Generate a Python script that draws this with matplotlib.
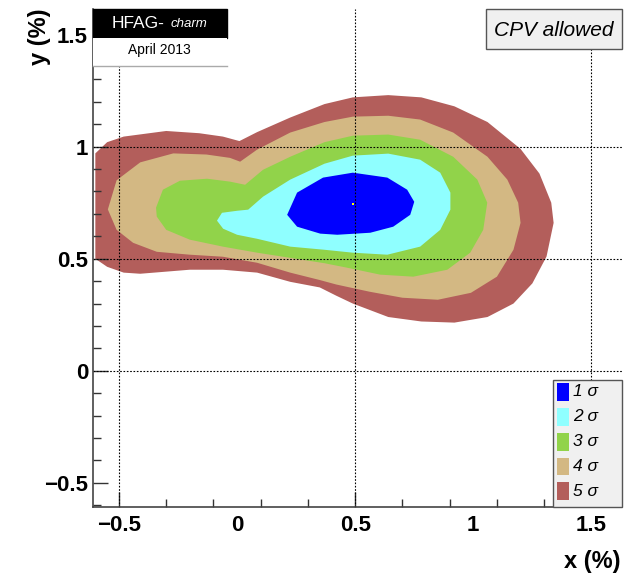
import matplotlib.pyplot as plt
import matplotlib.patches as mpatches
import numpy as np

plt.rcParams['font.family'] = ['Liberation Sans', 'DejaVu Sans']

# contour boundaries (x %, y %)
x5 = [-0.60, -0.60, -0.55, -0.48, -0.30, -0.16, -0.06, 0.01, 0.085, 0.225, 0.37, 0.49, 0.64, 0.78,
      0.92, 1.06, 1.20, 1.28, 1.33, 1.34, 1.31, 1.25, 1.17, 1.06, 0.92, 0.78, 0.64, 0.49, 0.42,
      0.35, 0.225, 0.085, -0.06, -0.20, -0.41, -0.48, -0.55]
y5 = [0.50, 0.97, 1.02, 1.045, 1.07, 1.06, 1.045, 1.025, 1.065, 1.13, 1.19, 1.22, 1.23, 1.22,
      1.18, 1.11, 0.99, 0.88, 0.75, 0.66, 0.51, 0.39, 0.30, 0.24, 0.215, 0.22, 0.24, 0.30, 0.335,
      0.372, 0.397, 0.438, 0.451, 0.451, 0.433, 0.438, 0.464]

x4 = [-0.547, -0.51, -0.41, -0.27, -0.13, -0.03, 0.013, 0.085, 0.225, 0.37, 0.49, 0.64, 0.775,
      0.915, 1.06, 1.144, 1.19, 1.20, 1.17, 1.10, 0.99, 0.85, 0.70, 0.56, 0.42, 0.35, 0.225,
      0.085, -0.06, -0.20, -0.34, -0.44, -0.51]
y4 = [0.72, 0.85, 0.93, 0.97, 0.965, 0.95, 0.933, 0.987, 1.063, 1.11, 1.134, 1.138, 1.121,
      1.063, 0.955, 0.853, 0.75, 0.66, 0.54, 0.42, 0.348, 0.317, 0.326, 0.353, 0.385, 0.405, 0.438,
      0.482, 0.509, 0.518, 0.531, 0.571, 0.629]

x3 = [-0.343, -0.314, -0.242, -0.127, -0.03, 0.034, 0.11, 0.225, 0.37, 0.49, 0.64, 0.775, 0.915,
      1.017, 1.059, 1.042, 0.987, 0.89, 0.746, 0.606, 0.466, 0.37, 0.225, 0.085, -0.06, -0.20,
      -0.30, -0.34]
y3 = [0.728, 0.808, 0.848, 0.857, 0.844, 0.83, 0.897, 0.955, 1.02, 1.049, 1.054, 1.031, 0.955,
      0.853, 0.75, 0.629, 0.527, 0.451, 0.42, 0.429, 0.46, 0.48, 0.504, 0.527, 0.554, 0.585,
      0.629, 0.688]

x2 = [-0.085, -0.064, 0.0, 0.047, 0.11, 0.225, 0.37, 0.49, 0.64, 0.775, 0.86, 0.903, 0.903, 0.86,
      0.775, 0.636, 0.49, 0.37, 0.225, 0.085, 0.0, -0.059]
y2 = [0.67, 0.705, 0.714, 0.719, 0.777, 0.853, 0.924, 0.96, 0.969, 0.942, 0.884, 0.795, 0.719,
      0.629, 0.554, 0.518, 0.527, 0.54, 0.554, 0.589, 0.607, 0.634]

x1 = [0.212, 0.254, 0.364, 0.49, 0.636, 0.72, 0.75, 0.733, 0.661, 0.564, 0.424, 0.352, 0.254]
y1 = [0.696, 0.795, 0.862, 0.884, 0.862, 0.808, 0.754, 0.696, 0.643, 0.616, 0.607, 0.612, 0.643]

best_x, best_y = 0.49, 0.746

labels = ['1 σ', '2 σ', '3 σ', '4 σ', '5 σ']
colors = ['#0000ff', '#8fffff', '#91d34a', '#d3b883', '#b35e5b']

fig = plt.figure(figsize=(6.24, 5.74), dpi=100)
ax = fig.add_axes([0.149, 0.117, 0.848, 0.868])

contours = [(x5, y5), (x4, y4), (x3, y3), (x2, y2), (x1, y1)]
for (cx, cy), col in zip(contours, colors[::-1]):
    ax.fill(cx, cy, color=col, lw=0, zorder=1)
ax.plot(best_x, best_y, 's', color='yellow', ms=2, mew=0, zorder=3)

ax.set_xlim(-0.61, 1.63)
ax.set_ylim(-0.607, 1.616)

# grid (only at these lines in the original)
for gx in [-0.5, 0.5, 1.5]:
    ax.axvline(gx, color='black', lw=0.8, ls=(0, (1.5, 1.5)), zorder=2)
for gy in [0, 0.5, 1.0]:
    ax.axhline(gy, color='black', lw=0.8, ls=(0, (1.5, 1.5)), zorder=2)

for s in ['top', 'right']:
    ax.spines[s].set_visible(False)
for s in ['left', 'bottom']:
    ax.spines[s].set_color('#444444')
    ax.spines[s].set_linewidth(1.2)

ax.set_xticks([-0.5, 0, 0.5, 1, 1.5])
ax.set_xticklabels(['\u22120.5', '0', '0.5', '1', '1.5'])
ax.set_xticks([-0.3, -0.1, 0.1, 0.3, 0.7, 0.9, 1.1, 1.3], minor=True)
ax.set_yticks([-0.5, 0, 0.5, 1, 1.5])
ax.set_yticklabels(['\u22120.5', '0', '0.5', '1', '1.5'])
ax.set_yticks(np.arange(-6, 17) / 10, minor=True)
ax.tick_params(which='both', direction='in', color='#333333', width=1)
ax.tick_params(which='major', length=11)
ax.tick_params(which='minor', length=5.5)
ax.tick_params(axis='x', which='major', pad=6, labelsize=16)
ax.tick_params(axis='y', which='major', pad=3.5, labelsize=16)
for t in ax.get_xticklabels() + ax.get_yticklabels():
    t.set_fontweight('bold')
for tick, v in zip(ax.xaxis.get_major_ticks(), [-0.5, 0, 0.5, 1, 1.5]):
    if v in (0, 1):
        tick.tick1line.set_visible(False)

fig.text(0.994, 0.021, 'x (%)', fontsize=17, fontweight='bold', ha='right', va='center')
fig.text(0.063, 0.985, 'y (%)', fontsize=17, fontweight='bold', rotation=90,
         ha='center', va='top')

# HFAG label
ax.add_patch(mpatches.Rectangle((0, 0.942), 0.253, 0.058, transform=ax.transAxes,
                                facecolor='black', edgecolor='black', zorder=5, clip_on=False))
ax.add_patch(mpatches.Rectangle((0, 0.884), 0.253, 0.058, transform=ax.transAxes,
                                facecolor='white', edgecolor='none', zorder=5, clip_on=False))
ax.plot([0, 0.253], [0.884, 0.884], color='#aaaaaa', lw=1, transform=ax.transAxes, zorder=6,
        clip_on=False)
ax.text(0.036, 0.971, 'HFAG-', color='white', fontsize=12.5, ha='left', va='center',
        transform=ax.transAxes, zorder=7)
ax.text(0.146, 0.969, 'charm', color='white', fontsize=9.5, style='italic', ha='left',
        va='center', transform=ax.transAxes, zorder=7)
ax.text(0.126, 0.916, 'April 2013', color='black', fontsize=10, ha='center', va='center',
        transform=ax.transAxes, zorder=7)

# CPV allowed box
ax.add_patch(mpatches.Rectangle((0.743, 0.918), 0.257, 0.082, transform=ax.transAxes,
                                facecolor='#f0f0f0', edgecolor='#555555', lw=1, zorder=5,
                                clip_on=False))
ax.text(0.870, 0.956, 'CPV allowed', fontsize=15, style='italic', ha='center', va='center',
        transform=ax.transAxes, zorder=7)

# legend
ax.add_patch(mpatches.Rectangle((0.870, 0.0), 0.130, 0.255, transform=ax.transAxes,
                                facecolor='#f0f0f0', edgecolor='#555555', lw=1, zorder=5,
                                clip_on=False))
ys = [0.231, 0.181, 0.131, 0.081, 0.031]
for lab, col, ly in zip(labels, colors, ys):
    ax.add_patch(mpatches.Rectangle((0.876, ly - 0.018), 0.0227, 0.036, transform=ax.transAxes,
                                    facecolor=col, edgecolor='none', zorder=6, clip_on=False))
    ax.text(0.908, ly, lab, fontsize=12.5, style='italic', ha='left', va='center',
            transform=ax.transAxes, zorder=7)

fig.savefig('out.png', dpi=100)
